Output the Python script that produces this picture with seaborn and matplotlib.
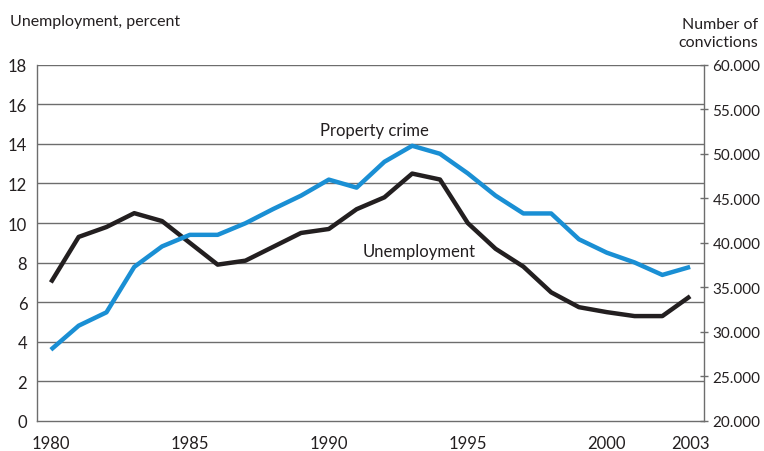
import matplotlib
matplotlib.use("Agg")
import matplotlib.pyplot as plt
import seaborn as sns
import pandas as pd
from matplotlib.ticker import FixedLocator, FuncFormatter

sns.set_style("white")
plt.rcParams['font.family'] = ['Lato', 'DejaVu Sans']

years = list(range(1980, 2004))
unemployment = [7.0, 9.3, 9.8, 10.5, 10.1, 9.0, 7.9, 8.1, 8.8, 9.5, 9.7, 10.7,
                11.3, 12.5, 12.2, 10.0, 8.7, 7.8, 6.5, 5.75, 5.5, 5.3, 5.3, 6.3]
convictions = [28000, 30700, 32200, 37300, 39600, 40900, 40900, 42200, 43800,
               45300, 47100, 46200, 49100, 50900, 50000, 47800, 45300, 43300,
               43300, 40400, 38900, 37800, 36400, 37300]
year_labels = [1980, 1985, 1990, 1995, 2000, 2003]

df = pd.DataFrame({"year": years, "unemployment": unemployment,
                   "convictions": convictions})

black = "#231f20"
blue = "#1a8fd4"
grid = "#6d6d6d"

fig = plt.figure(figsize=(7.64, 4.52), dpi=100)
ax = fig.add_axes([0.0484, 0.0664, 0.8731, 0.7882])
ax2 = ax.twinx()

sns.lineplot(data=df, x="year", y="unemployment", ax=ax, color=black,
             linewidth=3.2, solid_joinstyle="round", solid_capstyle="butt")
sns.lineplot(data=df, x="year", y="convictions", ax=ax2, color=blue,
             linewidth=3.2, solid_joinstyle="round", solid_capstyle="butt")

ax.set_xlim(1979.5, 2003.5)
ax.set_ylim(0, 18)
ax2.set_ylim(20000, 60000)

# left axis: gridlines at every 2 percent
ax.set_yticks(range(0, 19, 2))
ax.tick_params(axis="y", length=0, pad=7, labelsize=12, colors=black)
for v in range(2, 19, 2):
    ax.axhline(v, color=grid, lw=1.0, zorder=0)

# x axis: ticks between years, labels on selected years
ax.xaxis.set_major_locator(FixedLocator(year_labels))
ax.xaxis.set_minor_locator(FixedLocator([y - 0.5 for y in years] + [2003.5]))
ax.tick_params(axis="x", which="major", length=0, pad=10, labelsize=12,
               colors=black)
ax.tick_params(axis="x", which="minor", length=4, width=1, direction="out",
               color=grid)

# right axis
ax2.set_yticks(range(20000, 60001, 5000))
ax2.yaxis.set_major_formatter(FuncFormatter(lambda v, p: f"{int(v):,}".replace(",", ".")))
ax2.tick_params(axis="y", length=6, width=1, direction="inout", pad=3,
                labelsize=11, colors=black, color=grid)

ax.set_xlabel("")
ax.set_ylabel("")
ax2.set_ylabel("")

for a in (ax, ax2):
    a.spines["top"].set_visible(False)
    for s in ("left", "right", "bottom"):
        a.spines[s].set_color(grid)
        a.spines[s].set_linewidth(1.0)
ax2.spines["left"].set_visible(False)
ax2.spines["bottom"].set_visible(False)
ax.spines["right"].set_visible(False)

ax.text(1989.7, 14.7, "Property crime", fontsize=12, color=black,
        va="center", ha="left")
ax.text(1991.2, 8.6, "Unemployment", fontsize=12, color=black,
        va="center", ha="left")

fig.text(10 / 764, 1 - 22 / 452, "Unemployment, percent", fontsize=11.5,
         color=black, va="center", ha="left")
fig.text(758 / 764, 1 - 34 / 452, "Number of\nconvictions", fontsize=11.5,
         color=black, va="center", ha="right", linespacing=1.3)

fig.savefig("out.png", dpi=100)
